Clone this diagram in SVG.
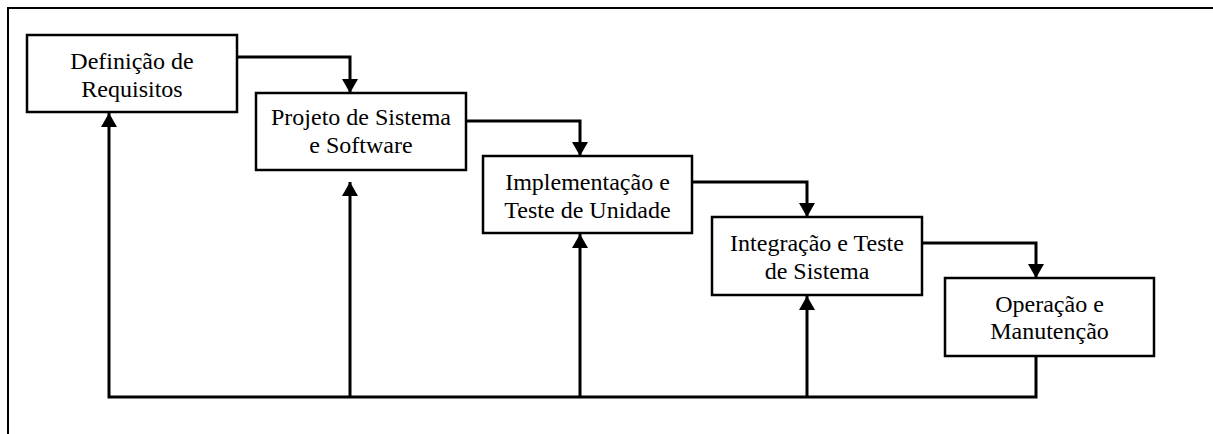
<svg xmlns="http://www.w3.org/2000/svg" width="1213" height="434" viewBox="0 0 1213 434">
  <style>
    .box { fill: #ffffff; stroke: #000000; stroke-width: 2.5; }
    .lbl { font-family: "Liberation Serif", "Times New Roman", serif; font-size: 24px; fill: #000000; text-anchor: middle; }
    .wire { fill: none; stroke: #000000; stroke-width: 3; }
    .frame { fill: none; stroke: #000000; stroke-width: 2; }
  </style>
  <defs>
    <marker id="head" markerUnits="userSpaceOnUse" markerWidth="16" markerHeight="16" refX="14" refY="8" orient="auto">
      <path d="M0,0 L14,8 L0,16 Z" fill="#000000"/>
    </marker>
  </defs>
  <rect width="1213" height="434" fill="#ffffff"/>

  <!-- page frame: top and left edges only -->
  <path class="frame" d="M8,434 L8,8 L1213,8"/>

  <g id="connectors">
    <!-- forward flow between phases -->
    <path class="wire" d="M237,57 L350,57 L350,93" marker-end="url(#head)"/>
    <path class="wire" d="M466,121 L580,121 L580,156" marker-end="url(#head)"/>
    <path class="wire" d="M692,182 L807,182 L807,217" marker-end="url(#head)"/>
    <path class="wire" d="M922,243 L1036,243 L1036,278" marker-end="url(#head)"/>
    <!-- feedback loop along the bottom -->
    <path class="wire" d="M1036,357 L1036,397 L109,397 L109,113" marker-end="url(#head)"/>
    <path class="wire" d="M350,397 L350,182" marker-end="url(#head)"/>
    <path class="wire" d="M580,397 L580,234" marker-end="url(#head)"/>
    <path class="wire" d="M807,397 L807,296" marker-end="url(#head)"/>
  </g>

  <g id="requisitos">
    <rect class="box" x="27" y="35" width="210" height="77"/>
    <text class="lbl" x="132" y="69">Definição de</text>
    <text class="lbl" x="132" y="97">Requisitos</text>
  </g>

  <g id="projeto">
    <rect class="box" x="256" y="93" width="210" height="77"/>
    <text class="lbl" x="361" y="125">Projeto de Sistema</text>
    <text class="lbl" x="361" y="153">e Software</text>
  </g>

  <g id="implementacao">
    <rect class="box" x="483" y="156" width="209" height="77"/>
    <text class="lbl" x="587.5" y="190">Implementação e</text>
    <text class="lbl" x="587.5" y="218">Teste de Unidade</text>
  </g>

  <g id="integracao">
    <rect class="box" x="712" y="217" width="210" height="78"/>
    <text class="lbl" x="817" y="251">Integração e Teste</text>
    <text class="lbl" x="817" y="279">de Sistema</text>
  </g>

  <g id="operacao">
    <rect class="box" x="945" y="278" width="209" height="78"/>
    <text class="lbl" x="1049.5" y="312">Operação e</text>
    <text class="lbl" x="1049.5" y="339">Manutenção</text>
  </g>
</svg>
